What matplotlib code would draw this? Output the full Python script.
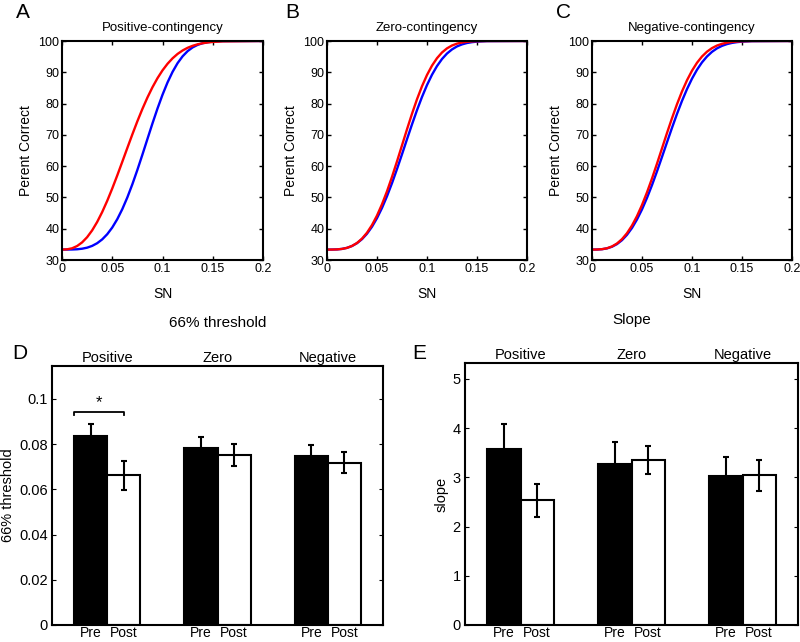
import matplotlib
matplotlib.use('Agg')
import matplotlib.pyplot as plt
import numpy as np

plt.rcParams['font.family'] = ['Liberation Sans', 'DejaVu Sans']

# ---------------- data ----------------
sn = [0.0, 0.005, 0.01, 0.015, 0.02, 0.025, 0.03, 0.035, 0.04, 0.045, 0.05,
      0.055, 0.06, 0.065, 0.07, 0.075, 0.08, 0.085, 0.09, 0.095, 0.1,
      0.105, 0.11, 0.115, 0.12, 0.125, 0.13, 0.135, 0.14, 0.145, 0.15, 0.16, 0.2]

pos_pre = [33.33, 33.34, 33.36, 33.43, 33.61, 33.94, 34.51, 35.37, 36.59, 38.24, 40.38,
           43.05, 46.26, 49.99, 54.20, 58.80, 63.67, 68.67, 73.64, 78.40, 82.81,
           86.75, 90.13, 92.92, 95.11, 96.77, 97.96, 98.77, 99.30, 99.62, 99.81, 99.96, 100.0]
pos_post = [33.33, 33.41, 33.74, 34.46, 35.63, 37.29, 39.47, 42.16, 45.33, 48.92, 52.86,
            57.05, 61.40, 65.80, 70.15, 74.35, 78.29, 81.93, 85.21, 88.11, 90.61,
            92.72, 94.46, 95.87, 96.97, 97.83, 98.47, 98.95, 99.29, 99.53, 99.70, 99.88, 100.0]
zero_pre = [33.33, 33.34, 33.39, 33.55, 33.88, 34.47, 35.37, 36.66, 38.40, 40.63, 43.38,
            46.64, 50.39, 54.56, 59.07, 63.79, 68.60, 73.35, 77.90, 82.12, 85.92,
            89.22, 91.99, 94.24, 96.00, 97.31, 98.27, 98.92, 99.36, 99.63, 99.80, 99.95, 100.0]
zero_post = [33.33, 33.34, 33.38, 33.54, 33.88, 34.49, 35.44, 36.83, 38.72, 41.17, 44.20,
             47.82, 51.96, 56.57, 61.52, 66.64, 71.77, 76.74, 81.38, 85.54, 89.14,
             92.13, 94.51, 96.33, 97.65, 98.56, 99.16, 99.53, 99.75, 99.88, 99.94, 99.99, 100.0]
neg_pre = [33.33, 33.35, 33.45, 33.72, 34.24, 35.09, 36.34, 38.05, 40.24, 42.96, 46.17,
           49.85, 53.94, 58.33, 62.94, 67.62, 72.25, 76.70, 80.86, 84.63, 87.96,
           90.81, 93.17, 95.06, 96.54, 97.65, 98.45, 99.01, 99.39, 99.64, 99.79, 99.94, 100.0]
neg_post = [33.33, 33.35, 33.46, 33.75, 34.33, 35.28, 36.67, 38.57, 41.02, 44.03, 47.58,
            51.62, 56.06, 60.79, 65.69, 70.59, 75.33, 79.79, 83.87, 87.45, 90.51,
            93.04, 95.05, 96.59, 97.73, 98.55, 99.10, 99.47, 99.69, 99.83, 99.91, 99.98, 100.0]

conditions = ['Positive', 'Zero', 'Negative']
phase_labels = ['Pre', 'Post']

thr_pre = [0.0835, 0.0781, 0.0746]
thr_pre_err = [0.0052, 0.0048, 0.0050]
thr_post = [0.0661, 0.0751, 0.0718]
thr_post_err = [0.0063, 0.0050, 0.0045]

slope_pre = [3.58, 3.27, 3.02]
slope_pre_err = [0.51, 0.44, 0.39]
slope_post = [2.53, 3.35, 3.04]
slope_post_err = [0.34, 0.29, 0.31]

# ---------------- figure ----------------
W, H = 800, 642
fig = plt.figure(figsize=(W / 100, H / 100), dpi=100)


def rect(l, t, r, b):
    return [l / W, 1 - b / H, (r - l) / W, (b - t) / H]


def style_spines(ax, lw=1.5):
    for s in ax.spines.values():
        s.set_linewidth(lw)
        s.set_color('black')


def curve_ax(px, pre, post, title, letter, lx):
    ax = fig.add_axes(rect(px[0], px[1], px[2], px[3]))
    ax.plot(sn, pre, color='#0000ff', lw=1.7)
    ax.plot(sn, post, color='#ff0000', lw=1.7)
    ax.set_xlim(0, 0.2)
    ax.set_ylim(30, 100)
    ax.set_xticks([0, 0.05, 0.1, 0.15, 0.2])
    ax.set_xticklabels(['0', '0.05', '0.1', '0.15', '0.2'])
    ax.set_yticks(range(30, 101, 10))
    ax.tick_params(direction='in', top=True, right=True, length=3, width=1,
                   labelsize=9, pad=2)
    style_spines(ax)
    ax.set_title(title, fontsize=9.5, pad=7)
    ax.set_xlabel('SN', fontsize=10, labelpad=9)
    ax.set_ylabel('Perent Correct', fontsize=10, labelpad=4)
    fig.text(lx / W, 1 - 13 / H, letter, fontsize=15, va='center', ha='left')
    return ax


curve_ax((62, 41, 263, 260), pos_pre, pos_post, 'Positive-contingency', 'A', 16)
curve_ax((327, 41, 527, 260), zero_pre, zero_post, 'Zero-contingency', 'B', 285)
curve_ax((592, 41, 792, 260), neg_pre, neg_post, 'Negative-contingency', 'C', 556)


def bar_ax(px, pre, pre_err, post, post_err, ylim, yticks, yticklabels,
           ylabel, title, letter, lx):
    ax = fig.add_axes(rect(px[0], px[1], px[2], px[3]))
    x = np.arange(1, len(conditions) + 1)
    w = 0.3
    ax.bar(x - w / 2, pre, width=w, color='black', edgecolor='black', lw=1.5, zorder=2)
    ax.bar(x + w / 2, post, width=w, color='white', edgecolor='black', lw=1.5, zorder=2)
    ax.errorbar(x - w / 2, pre, yerr=pre_err, fmt='none', ecolor='black',
                elinewidth=1.5, capsize=2.5, capthick=1.5, zorder=3)
    ax.errorbar(x + w / 2, post, yerr=post_err, fmt='none', ecolor='black',
                elinewidth=1.5, capsize=2.5, capthick=1.5, zorder=3)
    ax.set_xlim(0.5, 3.5)
    ax.set_ylim(*ylim)
    ticks = []
    labels = []
    for xi in x:
        ticks += [xi - w / 2, xi + w / 2]
        labels += phase_labels
    ax.set_xticks(ticks)
    ax.set_xticklabels(labels, fontsize=10)
    ax.tick_params(axis='x', length=0, pad=1)
    ax.set_yticks(yticks)
    ax.set_yticklabels(yticklabels)
    ax.tick_params(axis='y', direction='in', right=True, length=3, labelsize=10.5, pad=3)
    style_spines(ax)
    sec = ax.secondary_xaxis('top')
    sec.set_xticks(x)
    sec.set_xticklabels(conditions, fontsize=10.5)
    sec.tick_params(length=0, pad=1)
    sec.spines['top'].set_visible(False)
    ax.set_title(title, fontsize=11, pad=28)
    ax.set_ylabel(ylabel, fontsize=10.5, labelpad=3)
    fig.text(lx / W, 1 - 354 / H, letter, fontsize=15, va='center', ha='left')
    return ax


axD = bar_ax((52, 366, 383, 625), thr_pre, thr_pre_err, thr_post, thr_post_err,
             (0, 0.1145), [0, 0.02, 0.04, 0.06, 0.08, 0.1],
             ['0', '0.02', '0.04', '0.06', '0.08', '0.1'],
             '66% threshold', '66% threshold', 'D', 12)
# significance bracket
axD.plot([0.7, 0.7, 1.15, 1.15], [0.0928, 0.0943, 0.0943, 0.0928], color='black', lw=1.3)
axD.text(0.925, 0.0985, '*', ha='center', va='center', fontsize=12)

bar_ax((465, 363, 798, 625), slope_pre, slope_pre_err, slope_post, slope_post_err,
       (0, 5.32), [0, 1, 2, 3, 4, 5], ['0', '1', '2', '3', '4', '5'],
       'slope', 'Slope', 'E', 412)

fig.savefig('out.png', dpi=100)
